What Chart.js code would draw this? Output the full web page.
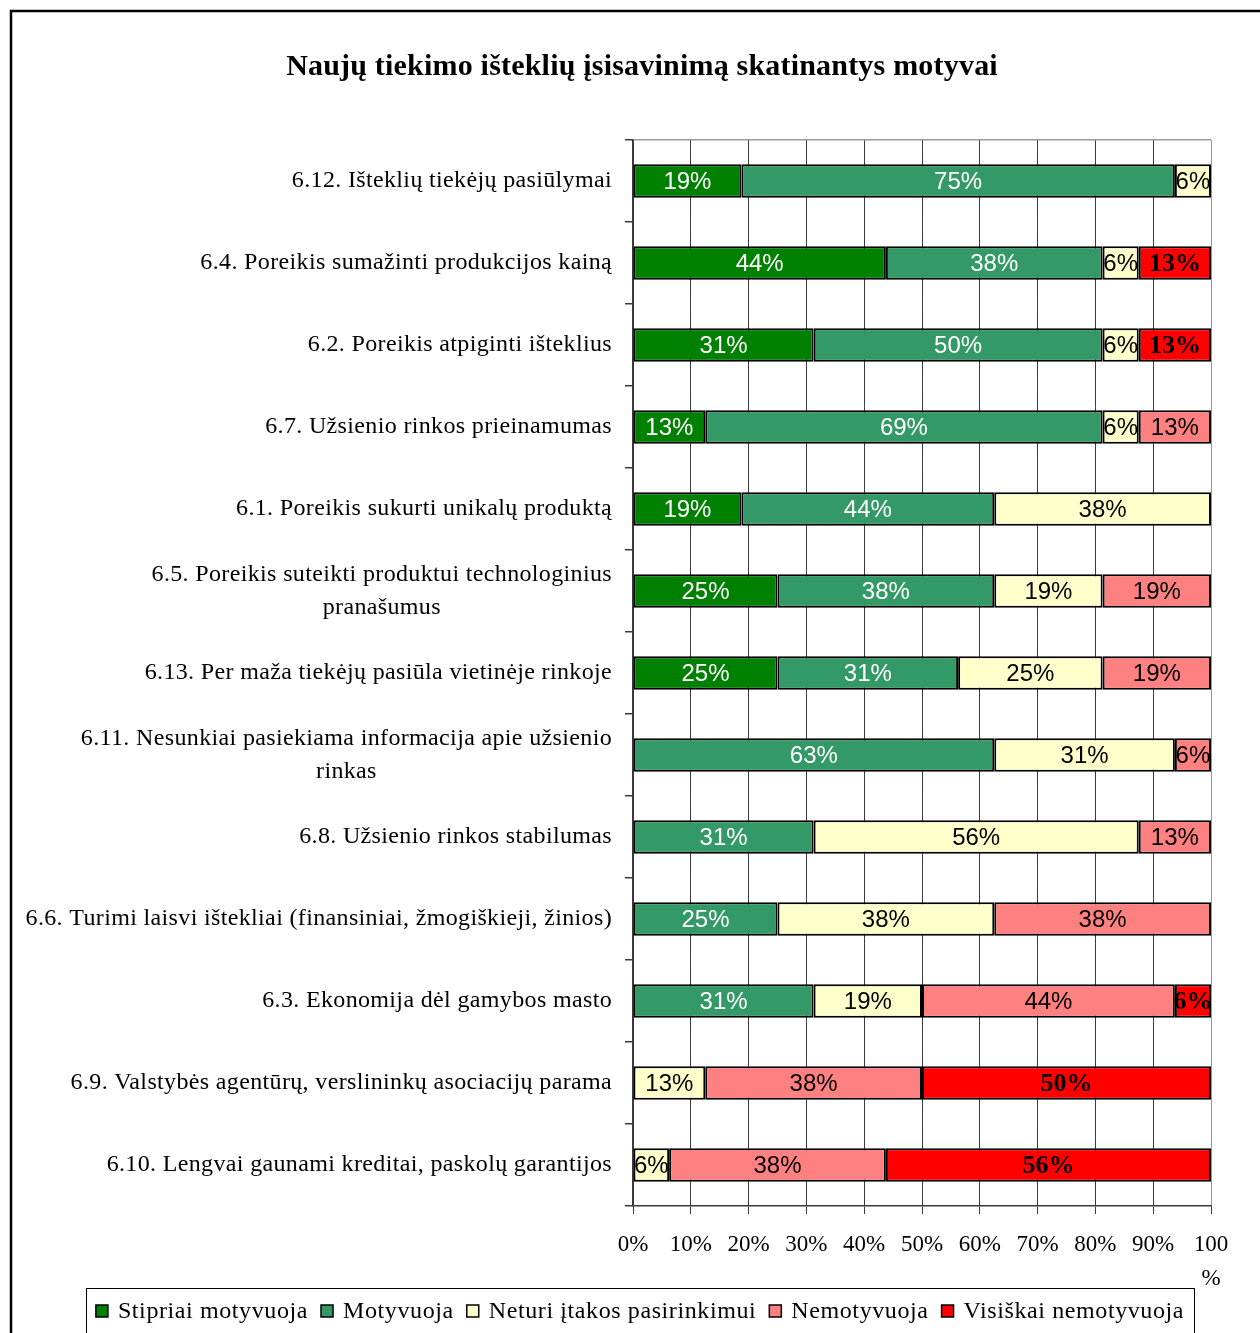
<!DOCTYPE html>
<html>
<head>
<meta charset="utf-8">
<title>Naujų tiekimo išteklių įsisavinimą skatinantys motyvai</title>
<script src="https://cdn.jsdelivr.net/npm/chart.js@4.4.0/dist/chart.umd.min.js"></script>
<style>
  html, body { margin: 0; padding: 0; background: #ffffff; }
  #wrap { position: relative; width: 1260px; height: 1333px; overflow: hidden; }
  canvas { display: block; }
</style>
</head>
<body>
<div id="wrap"><canvas id="chart" width="1260" height="1333"></canvas></div>
<script>
// Survey motives, share of respondents (%) per answer
const chartTitle = 'Naujų tiekimo išteklių įsisavinimą skatinantys motyvai';

const categories = [
  '6.12. Išteklių tiekėjų pasiūlymai',
  '6.4. Poreikis sumažinti produkcijos kainą',
  '6.2. Poreikis atpiginti išteklius',
  '6.7. Užsienio rinkos prieinamumas',
  '6.1. Poreikis sukurti unikalų produktą',
  ['6.5. Poreikis suteikti produktui technologinius', 'pranašumus'],
  '6.13. Per maža tiekėjų pasiūla vietinėje rinkoje',
  ['6.11. Nesunkiai pasiekiama informacija apie užsienio', 'rinkas'],
  '6.8. Užsienio rinkos stabilumas',
  '6.6. Turimi laisvi ištekliai (finansiniai, žmogiškieji, žinios)',
  '6.3. Ekonomija dėl gamybos masto',
  '6.9. Valstybės agentūrų, verslininkų asociacijų parama',
  '6.10. Lengvai gaunami kreditai, paskolų garantijos'
];

const seriesNames = ['Stipriai motyvuoja', 'Motyvuoja', 'Neturi įtakos pasirinkimui', 'Nemotyvuoja', 'Visiškai nemotyvuoja'];

const stipriaiMotyvuoja   = [18.75, 43.75, 31.25, 12.5, 18.75, 25, 25, 0, 0, 0, 0, 0, 0];
const motyvuoja           = [75, 37.5, 50, 68.75, 43.75, 37.5, 31.25, 62.5, 31.25, 25, 31.25, 0, 0];
const neturiItakos        = [6.25, 6.25, 6.25, 6.25, 37.5, 18.75, 25, 31.25, 56.25, 37.5, 18.75, 12.5, 6.25];
const nemotyvuoja         = [0, 0, 0, 12.5, 0, 18.75, 18.75, 6.25, 12.5, 37.5, 43.75, 37.5, 37.5];
const visiskaiNemotyvuoja = [0, 12.5, 12.5, 0, 0, 0, 0, 0, 0, 0, 6.25, 50, 56.25];

const xTickValues = [0, 10, 20, 30, 40, 50, 60, 70, 80, 90, 100];

const seriesColors = ['#008000', '#339966', '#FFFFCC', '#FF8080', '#FF0000'];
const sans = '"Liberation Sans", Arial, sans-serif';
const serif = '"Liberation Serif", "Times New Roman", serif';
const labelStyles = [
  { font: '24px ' + sans, color: '#ffffff' },
  { font: '24px ' + sans, color: '#ffffff' },
  { font: '24px ' + sans, color: '#000000' },
  { font: '24px ' + sans, color: '#000000' },
  { font: 'bold 26px ' + serif, color: '#000000' }
];

const seriesValues = [stipriaiMotyvuoja, motyvuoja, neturiItakos, nemotyvuoja, visiskaiNemotyvuoja];

const datasets = seriesNames.map((name, i) => ({
  label: name,
  data: seriesValues[i],
  backgroundColor: seriesColors[i],
  borderColor: '#000000',
  borderWidth: 2,
  borderSkipped: false,
  categoryPercentage: 1.0,
  barPercentage: 0.41
}));

// White page, outer frame and the heading
const framePlugin = {
  id: 'frame',
  beforeDraw(chart) {
    const ctx = chart.ctx;
    ctx.save();
    ctx.fillStyle = '#ffffff';
    ctx.fillRect(0, 0, chart.width, chart.height);
    ctx.strokeStyle = '#000000';
    ctx.lineWidth = 2.5;
    ctx.strokeRect(11, 11, 1400, 1400);
    ctx.font = 'bold 30px ' + serif;
    ctx.letterSpacing = '0.2px';
    ctx.fillStyle = '#000000';
    ctx.textAlign = 'center';
    ctx.textBaseline = 'middle';
    ctx.fillText(chartTitle, 642, 67);
    ctx.restore();
  }
};

// Percentage labels in the middle of each segment
const segmentLabels = {
  id: 'segmentLabels',
  afterDatasetsDraw(chart) {
    const ctx = chart.ctx;
    ctx.save();
    ctx.textAlign = 'center';
    ctx.textBaseline = 'middle';
    chart.data.datasets.forEach((ds, di) => {
      const meta = chart.getDatasetMeta(di);
      meta.data.forEach((bar, i) => {
        const v = ds.data[i];
        if (!v) return;
        const cx = (bar.x + bar.base) / 2;
        ctx.font = labelStyles[di].font;
        ctx.fillStyle = labelStyles[di].color;
        ctx.fillText(Math.round(v) + '%', cx, bar.y + 1);
      });
    });
    ctx.restore();
  }
};

// Category names: right-aligned blocks, lines centred within each block
const categoryLabels = {
  id: 'categoryLabels',
  afterDraw(chart) {
    const ctx = chart.ctx;
    const yScale = chart.scales.y;
    const rightX = yScale.left - 13;
    const lineH = 33;
    ctx.save();
    ctx.font = '24px ' + serif;
    ctx.letterSpacing = '0.35px';
    ctx.fillStyle = '#000000';
    ctx.textBaseline = 'middle';
    ctx.textAlign = 'center';
    categories.forEach((cat, i) => {
      const lines = Array.isArray(cat) ? cat : [cat];
      const widest = Math.max(...lines.map(l => ctx.measureText(l).width));
      const cx = rightX - widest / 2;
      const yc = yScale.getPixelForValue(i);
      const y0 = yc - (lines.length - 1) * lineH / 2;
      lines.forEach((l, k) => ctx.fillText(l, cx, y0 + k * lineH));
    });
    ctx.restore();
  }
};

// Boxed legend under the axis
const boxedLegend = {
  id: 'boxedLegend',
  afterDraw(chart) {
    const ctx = chart.ctx;
    ctx.save();
    ctx.font = '24px ' + serif;
    ctx.letterSpacing = '0.6px';
    ctx.textBaseline = 'middle';
    ctx.textAlign = 'left';
    const box = 12, boxGap = 10, itemGap = 13;
    const widths = seriesNames.map(n => box + boxGap + ctx.measureText(n).width);
    const total = widths.reduce((a, b) => a + b, 0) + itemGap * (seriesNames.length - 1);
    let x = 640 - total / 2;
    const yc = 1311;
    ctx.strokeStyle = '#000000';
    ctx.lineWidth = 1;
    ctx.strokeRect(Math.round(x - 10) + 0.5, 1288.5, Math.round(total + 20), 60);
    seriesNames.forEach((n, i) => {
      ctx.fillStyle = seriesColors[i];
      ctx.fillRect(x, yc - box / 2, box, box);
      ctx.lineWidth = 1.5;
      ctx.strokeStyle = '#000000';
      ctx.strokeRect(x, yc - box / 2, box, box);
      ctx.fillStyle = '#000000';
      ctx.fillText(n, x + box + boxGap, yc + 1);
      x += widths[i] + itemGap;
    });
    ctx.restore();
  }
};

new Chart(document.getElementById('chart'), {
  type: 'bar',
  data: { labels: categories, datasets },
  plugins: [framePlugin, segmentLabels, categoryLabels, boxedLegend],
  options: {
    indexAxis: 'y',
    responsive: false,
    animation: false,
    devicePixelRatio: 1,
    layout: { padding: { left: 625, right: 49, top: 140, bottom: 47 } },
    plugins: {
      legend: { display: false },
      tooltip: { enabled: false },
      title: { display: false }
    },
    scales: {
      x: {
        stacked: true,
        min: 0,
        max: 100,
        afterBuildTicks(scale) { scale.ticks = xTickValues.map(v => ({ value: v })); },
        afterFit(scale) { scale.height = 80; },
        ticks: {
          color: '#000000',
          padding: 14,
          maxRotation: 0,
          autoSkip: false,
          font: { family: serif, size: 23, lineHeight: 1.48 },
          callback: v => (v === 100 ? ['100', '%'] : v + '%')
        },
        grid: {
          color: ctx => (ctx.tick && ctx.tick.value === 100 ? '#9a9a9a' : '#3a3a3a'),
          tickColor: '#3a3a3a',
          lineWidth: 1,
          tickLength: 8
        },
        border: { display: true, color: '#3a3a3a', width: 1.5 }
      },
      y: {
        stacked: true,
        afterFit(scale) { scale.width = 8; },
        ticks: { display: false },
        grid: {
          drawOnChartArea: true,
          color: ctx => (ctx.index === 0 ? '#9a9a9a' : 'rgba(0,0,0,0)'),
          tickColor: '#3a3a3a',
          lineWidth: 1.5,
          tickLength: 8
        },
        border: { display: true, color: '#3a3a3a', width: 1.5 }
      }
    }
  }
});
</script>
</body>
</html>
